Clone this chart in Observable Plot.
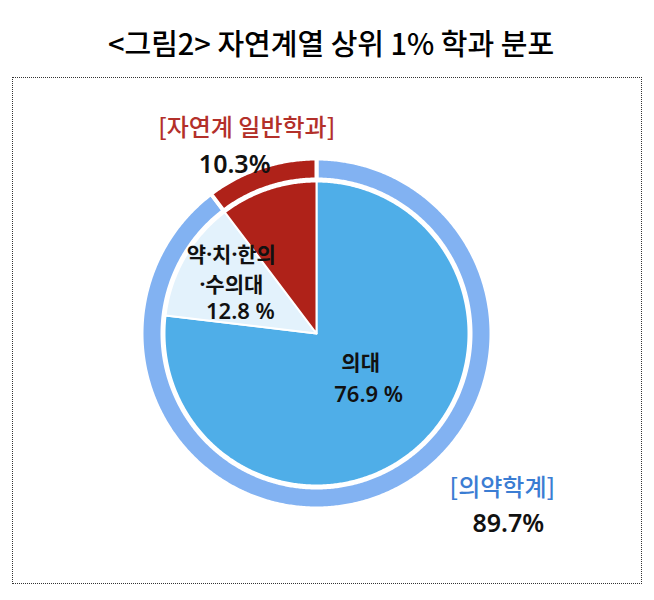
<!DOCTYPE html>
<html><head><meta charset="utf-8">
<script src="https://cdn.jsdelivr.net/npm/d3@7"></script>
<script src="https://cdn.jsdelivr.net/npm/@observablehq/plot@0.6"></script>
<style>
html,body{margin:0;padding:0;background:#fff;}
#wrap{position:relative;width:654px;height:600px;overflow:hidden;font-family:"Noto Sans CJK KR",sans-serif;}
#title{position:absolute;left:0;top:22px;width:662px;text-align:center;font-size:29px;line-height:40px;font-weight:500;color:#000;white-space:nowrap;}
#box{position:absolute;left:12px;top:77px;width:630px;height:507px;border:1px dotted #333;box-sizing:border-box;}
#chart{position:absolute;left:0;top:77px;}
#chart g[aria-label="inner values"] text{letter-spacing:1.5px;}
#chart g[aria-label="outer values"] text{letter-spacing:1px;}
</style></head>
<body><div id="wrap"><div id="title">&lt;그림2&gt; 자연계열 상위 1% 학과 분포</div><div id="box"></div><div id="chart"></div></div>
<script>
// ---- data ----
const innerCategories = ["의대", "약·치·한의·수의대", "자연계 일반학과"];
const innerValues = [76.9, 12.8, 10.3];
const innerLabelNames = ["의대", "약·치·한의\n·수의대", null];
const outerCategories = ["의약학계", "자연계 일반학과"];
const outerValues = [89.7, 10.3];

// ---- styling ----
const innerColors = ["#4FAEE8", "#E3F2FC", "#AF2219"];
const outerColors = ["#82B2F2", "#AF2219"];
const outerLabelColors = ["#3B7DD3", "#B3302A"];

const W = 654, H = 523, CX = 316, CY = 256;
const R = 152, RING0 = 154, RING1 = 175;

const pie = d3.pie().sort(null).value(d => d.value);
const inner = pie(innerCategories.map((c, i) => ({key: "in-" + c, name: c, value: innerValues[i], label: innerLabelNames[i], color: innerColors[i]})));
const outer = pie(outerCategories.map((c, i) => ({key: "out-" + c, name: c, value: outerValues[i], color: outerColors[i], labelColor: outerLabelColors[i]})));

function sector(a, r0, r1) {
  const pts = [];
  const n = Math.max(2, Math.ceil((a.endAngle - a.startAngle) / (Math.PI / 360)));
  for (let i = 0; i <= n; i++) {
    const t = a.startAngle + (a.endAngle - a.startAngle) * i / n;
    pts.push({key: a.data.key, x: r1 * Math.sin(t), y: r1 * Math.cos(t)});
  }
  if (r0 === 0) pts.push({key: a.data.key, x: 0, y: 0});
  else for (let i = n; i >= 0; i--) {
    const t = a.startAngle + (a.endAngle - a.startAngle) * i / n;
    pts.push({key: a.data.key, x: r0 * Math.sin(t), y: r0 * Math.cos(t)});
  }
  pts.push({...pts[0]});
  return pts;
}
const innerPts = inner.flatMap(a => sector(a, 0, R));
const outerPts = outer.flatMap(a => sector(a, RING0, RING1));

function at(a, r) {
  const m = (a.startAngle + a.endAngle) / 2;
  return {x: r * Math.sin(m), y: r * Math.cos(m)};
}
const innerLabels = inner.filter(a => a.data.label).map((a, i) => ({
  ...at(a, [68, 97][i]),
  name: a.data.label,
  val: a.data.value.toFixed(1) + " %",
  nameOff: [[-1, -24], [-1, -18]][i],
  valOff: [[7, 11], [8, 27]][i]
}));
const outerLabels = outer.map((a, i) => ({
  ...at(a, 185),
  head: "[" + a.data.name + "]",
  val: a.data.value.toFixed(1) + "%",
  color: a.data.labelColor,
  headOff: [[127, -21], [-11, -30]][i],
  valOff: [[133, 15], [-23, 7]][i]
}));

const colorDomain = [...inner, ...outer].map(a => a.data.key);
const colorRange = [...inner, ...outer].map(a => a.data.color);
const cjk = "'Noto Sans', 'Noto Sans CJK KR', sans-serif";
const latin = "'Noto Sans', 'Noto Sans CJK KR', sans-serif";

const chart = Plot.plot({
  width: W, height: H,
  margin: 0,
  x: {domain: [-CX, W - CX], axis: null},
  y: {domain: [-(H - CY), CY], axis: null},
  color: {domain: colorDomain, range: colorRange},
  style: {background: "transparent", fontFamily: cjk},
  marks: [
    Plot.line(outerPts, {x: "x", y: "y", z: "key", fill: "key", stroke: "white", strokeWidth: 4, curve: "linear"}),
    Plot.line(innerPts, {x: "x", y: "y", z: "key", fill: "key", stroke: "white", strokeWidth: 2, curve: "linear"}),
    ...innerLabels.map(d => Plot.text([d], {x: "x", y: "y", text: "name", fontSize: 21, fontWeight: "bold", fill: "#111",
      fontFamily: cjk, lineHeight: 1.43, dx: d.nameOff[0], dy: d.nameOff[1]})),
    ...innerLabels.map(d => Plot.text([d], {x: "x", y: "y", text: "val", fontSize: 22, fontWeight: 600, fill: "#111",
      fontFamily: latin, dx: d.valOff[0], dy: d.valOff[1], ariaLabel: "inner values"})),
    ...outerLabels.map(d => Plot.text([d], {x: "x", y: "y", text: "head", fontSize: 24, fontWeight: 500, fill: d.color,
      fontFamily: "'Noto Sans CJK KR', sans-serif", dx: d.headOff[0], dy: d.headOff[1]})),
    ...outerLabels.map(d => Plot.text([d], {x: "x", y: "y", text: "val", fontSize: 25, fontWeight: 600, fill: "#111",
      fontFamily: latin, dx: d.valOff[0], dy: d.valOff[1], ariaLabel: "outer values"}))
  ]
});
document.getElementById("chart").appendChild(chart);
</script>
</body></html>
